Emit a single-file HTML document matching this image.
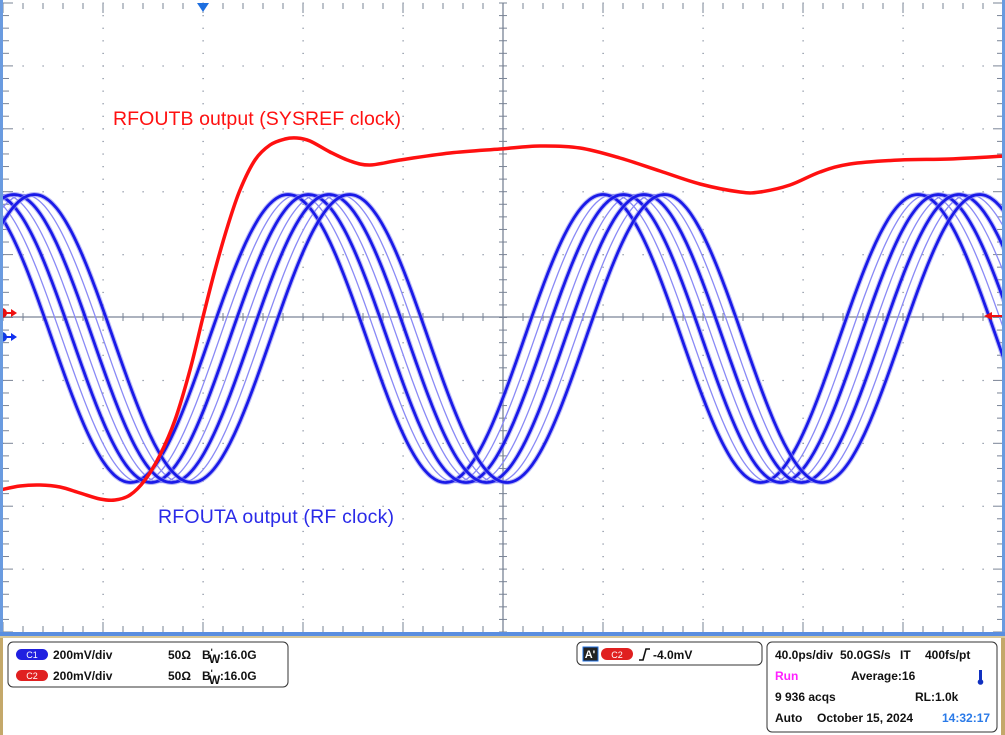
<!DOCTYPE html>
<html><head><meta charset="utf-8"><style>
html,body{margin:0;padding:0;background:#fff;width:1005px;height:735px;overflow:hidden;font-family:"Liberation Sans",sans-serif}
svg{position:absolute;left:0;top:0}
.t{font-family:"Liberation Sans",sans-serif;font-weight:bold;font-size:12px;fill:#111}
</style></head><body>
<svg id="s" width="1005" height="735" xmlns="http://www.w3.org/2000/svg">
<rect x="0" y="0" width="1005" height="735" fill="#fff"/>
<g id="grid"></g>
<g id="waves"></g>
<text x="113" y="125" font-family="Liberation Sans" font-size="19.5" fill="#ff1010" textLength="288">RFOUTB output (SYSREF clock)</text>
<text x="158" y="523" font-family="Liberation Sans" font-size="19.5" fill="#2a2ae8" textLength="236">RFOUTA output (RF clock)</text>
<polygon points="197,3 209,3 203,12" fill="#1e6fe0"/>
<circle cx="2" cy="313" r="5" fill="#e01010"/><line x1="4" y1="313" x2="13" y2="313" stroke="#f01010" stroke-width="2"/><polygon points="11,309 17,313 11,317" fill="#f01010"/>
<circle cx="2" cy="337" r="5" fill="#1040e0"/><line x1="4" y1="337" x2="13" y2="337" stroke="#1030f0" stroke-width="2"/><polygon points="11,333 17,337 11,341" fill="#1030f0"/>
<line x1="990" y1="316" x2="1003" y2="316" stroke="#f01010" stroke-width="2"/><polygon points="992,312 984,316 992,320" fill="#f01010"/>
<rect x="0" y="0" width="3" height="634" fill="#6a9be0"/>
<rect x="1002" y="0" width="3" height="634" fill="#6a9be0"/>
<rect x="0" y="632" width="1005" height="4" fill="#5a8ee0"/>
<rect x="0" y="636" width="3" height="99" fill="#c4a86a"/>
<rect x="1001" y="636" width="4" height="99" fill="#c4a86a"/>
<rect x="0" y="636" width="1005" height="2" fill="#d8c89a"/>
<rect x="8" y="642" width="280" height="45" rx="5" fill="#fff" stroke="#333" stroke-width="1"/>
<rect x="16" y="649" width="32" height="11" rx="5.5" fill="#2020e0"/><text x="32" y="658" text-anchor="middle" font-size="9" fill="#fff" font-family="Liberation Sans">C1</text>
<rect x="16" y="670" width="32" height="11" rx="5.5" fill="#e02020"/><text x="32" y="679" text-anchor="middle" font-size="9" fill="#fff" font-family="Liberation Sans">C2</text>
<text class="t" x="53" y="659">200mV/div</text><text class="t" x="168" y="659">50Ω</text><text class="t" x="202" y="659">B<tspan font-size="9" dy="-4">ʹ</tspan><tspan dy="8" dx="-4">W</tspan><tspan dy="-4">:16.0G</tspan></text>
<text class="t" x="53" y="680">200mV/div</text><text class="t" x="168" y="680">50Ω</text><text class="t" x="202" y="680">B<tspan font-size="9" dy="-4">ʹ</tspan><tspan dy="8" dx="-4">W</tspan><tspan dy="-4">:16.0G</tspan></text>
<rect x="577" y="642" width="185" height="23" rx="5" fill="#fff" stroke="#333"/>
<rect x="583" y="647" width="15" height="14" fill="#222" stroke="#1e6fe0"/><text x="590" y="658" text-anchor="middle" font-size="11" font-weight="bold" fill="#fff" font-family="Liberation Sans">A'</text>
<rect x="601" y="648" width="32" height="12" rx="6" fill="#e02020"/><text x="617" y="658" text-anchor="middle" font-size="9" fill="#fff" font-family="Liberation Sans">C2</text>
<path d="M639,660 L643,660 L646,649 L650,649" fill="none" stroke="#111" stroke-width="1.6"/>
<text class="t" x="653" y="659">-4.0mV</text>
<rect x="767" y="642" width="230" height="90" rx="5" fill="#fff" stroke="#333"/>
<text class="t" x="775" y="659">40.0ps/div</text><text class="t" x="840" y="659">50.0GS/s</text><text class="t" x="900" y="659">IT</text><text class="t" x="925" y="659">400fs/pt</text>
<text class="t" x="775" y="680" style="fill:#ff20ff">Run</text><text class="t" x="851" y="680">Average:16</text>
<rect x="979" y="670" width="3" height="11" fill="#1030c0"/><circle cx="980.5" cy="682" r="2.8" fill="#1030c0"/>
<text class="t" x="775" y="701">9 936 acqs</text><text class="t" x="915" y="701">RL:1.0k</text>
<text class="t" x="775" y="722">Auto</text><text class="t" x="817" y="722">October 15, 2024</text><text class="t" x="942" y="722" style="fill:#2a7ae8">14:32:17</text>
</svg>
<script>
var NS="http://www.w3.org/2000/svg";
function el(p,n,a){var e=document.createElementNS(NS,n);for(var k in a)e.setAttribute(k,a[k]);p.appendChild(e);return e;}
var g=document.getElementById("grid"),gc="#7a8496";
var X0=3,X1=1003,Y0=3,Y1=632,dx=100,dy=62.9,cx=503,cy=317;
for(var i=1;i<10;i++){var x=X0+i*dx;for(var y=Y0;y<=Y1;y+=dy/5)el(g,"rect",{x:x-0.5,y:y-0.5,width:1.2,height:1.2,fill:gc});}
for(var j=1;j<10;j++){var y=Y0+j*dy;for(var x=X0;x<=X1;x+=20)el(g,"rect",{x:x-0.5,y:y-0.5,width:1.2,height:1.2,fill:gc});}
el(g,"line",{x1:X0,y1:cy,x2:X1,y2:cy,stroke:gc,"stroke-width":1.3});
el(g,"line",{x1:cx,y1:Y0,x2:cx,y2:Y1,stroke:gc,"stroke-width":1.3});
for(var x=X0;x<=X1;x+=20){el(g,"line",{x1:x,y1:cy-4,x2:x,y2:cy+4,stroke:gc,"stroke-width":1});
 el(g,"line",{x1:x,y1:Y0,x2:x,y2:Y0+(((x-X0)%100)?6:10),stroke:gc,"stroke-width":1});
 el(g,"line",{x1:x,y1:Y1,x2:x,y2:Y1-(((x-X0)%100)?6:10),stroke:gc,"stroke-width":1});}
for(var k=0;k<=50;k++){var y=Y0+k*dy/5;el(g,"line",{x1:cx-4,y1:y,x2:cx+4,y2:y,stroke:gc,"stroke-width":1});
 el(g,"line",{x1:X0,y1:y,x2:X0+(k%5?6:10),y2:y,stroke:gc,"stroke-width":1});
 el(g,"line",{x1:X1,y1:y,x2:X1-(k%5?6:10),y2:y,stroke:gc,"stroke-width":1});}
var w=document.getElementById("waves"),P=315,C=338.5,A=144;
function sine(x0){var d="";for(var x=0;x<=1005;x+=2){var y=C-A*Math.cos(2*Math.PI*(x-x0)/P);d+=(x?"L":"M")+x+","+y.toFixed(1);}return d;}
for(var k=0;k<3;k++)el(w,"path",{d:sine(288+20.5*(k+0.5)),fill:"none",stroke:"#8a8af5","stroke-width":1.3});
for(var k=0;k<4;k++){el(w,"path",{d:sine(288+20.5*k),fill:"none",stroke:"#9090f0","stroke-width":5,opacity:0.6});
 el(w,"path",{d:sine(288+20.5*k),fill:"none",stroke:"#1a1ae8","stroke-width":2.8});}
var pts=[[0,490],[20,486],[40,485],[60,487],[80,493],[100,499],[115,500],[130,495],[145,480],[160,455],[175,420],[190,370],[203,317],[215,270],[228,225],[240,190],[255,160],[270,145],[285,139],[297,138],[310,141],[330,152],[350,161],[370,165],[400,160],[450,153],[500,149],[540,146],[580,148],[620,158],[660,171],[700,184],[740,192],[760,192],[790,185],[820,172],[850,164],[900,160],[950,159],[1005,156]];
var d="M"+pts[0];
for(var i=0;i<pts.length-1;i++){var p0=pts[Math.max(0,i-1)],p1=pts[i],p2=pts[i+1],p3=pts[Math.min(pts.length-1,i+2)];
 var c1=[p1[0]+(p2[0]-p0[0])/6,p1[1]+(p2[1]-p0[1])/6],c2=[p2[0]-(p3[0]-p1[0])/6,p2[1]-(p3[1]-p1[1])/6];
 d+="C"+c1+" "+c2+" "+p2;}
el(w,"path",{d:d,fill:"none",stroke:"#ff1010","stroke-width":3.5});
</script>
</body></html>
